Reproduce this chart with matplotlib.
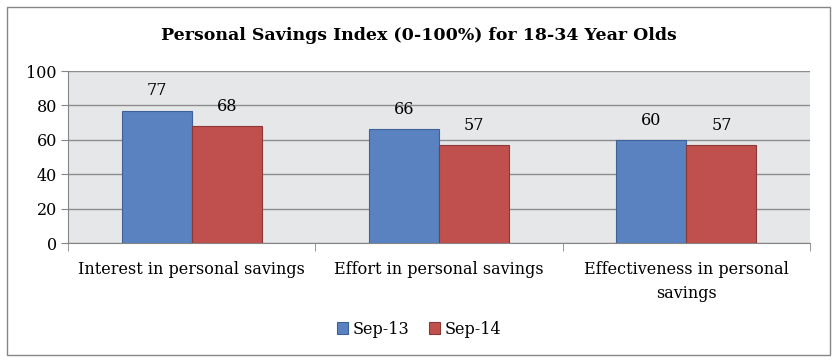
import numpy as np
import matplotlib.pyplot as plt
from matplotlib.patches import Rectangle

categories = ["Interest in personal savings", "Effort in personal savings",
              "Effectiveness in personal\nsavings"]
series_names = ["Sep-13", "Sep-14"]
sep13 = [77, 66, 60]
sep14 = [68, 57, 57]
yticks = [0, 20, 40, 60, 80, 100]

plt.rcParams['font.family'] = ['DejaVu Serif']

fig = plt.figure(figsize=(8.38, 3.62), dpi=100)
# outer chart border
fig.patches.append(Rectangle((7 / 838, 7 / 362), 823 / 838, 348 / 362,
                             transform=fig.transFigure, fill=False,
                             edgecolor='#868686', linewidth=1.0))

ax = fig.add_axes([68 / 838, 1 - 243 / 362, 742 / 838, 172 / 362])
ax.set_facecolor('#E6E7E9')

x = np.arange(len(categories))
w = 70 / 247
b1 = ax.bar(x - w / 2, sep13, w, color='#5A82C0', edgecolor='#3F619A',
            linewidth=0.8, label=series_names[0], zorder=3)
b2 = ax.bar(x + w / 2, sep14, w, color='#C0504D', edgecolor='#8C3836',
            linewidth=0.8, label=series_names[1], zorder=3)
for bars in (b1, b2):
    for r in bars:
        ax.text(r.get_x() + r.get_width() / 2, r.get_height() + 6.5,
                f"{r.get_height():.0f}", ha='center', va='bottom', fontsize=11.5)

ax.set_xlim(-0.5, len(categories) - 0.5)
ax.set_ylim(0, 100)
ax.set_yticks(yticks)
ax.tick_params(axis='y', labelsize=11.5, length=5, color='#868686', pad=3)
ax.yaxis.grid(True, color='#8C8C8C', linewidth=1.0, zorder=0)
ax.set_axisbelow(True)

ax.set_xticks(x)
ax.set_xticklabels(categories, fontsize=11.5, linespacing=1.5)
ax.tick_params(axis='x', length=0, pad=13)
ax.set_xticks(np.arange(-0.5, len(categories)), minor=True)
ax.tick_params(axis='x', which='minor', length=6, color='#868686')

for s in ['top', 'right']:
    ax.spines[s].set_visible(False)
for s in ['left', 'bottom']:
    ax.spines[s].set_color('#868686')

fig.text(0.5, 1 - 35 / 362, "Personal Savings Index (0-100%) for 18-34 Year Olds",
         ha='center', va='center', fontsize=12.5, fontweight='bold')

fig.legend(handles=[b1, b2], labels=series_names, loc='center',
           bbox_to_anchor=(0.5, 1 - 329 / 362), ncol=2, frameon=False,
           fontsize=11.5, handlelength=0.7, handleheight=0.7,
           handletextpad=0.3, columnspacing=1.2)

fig.savefig("out.png", dpi=100)
